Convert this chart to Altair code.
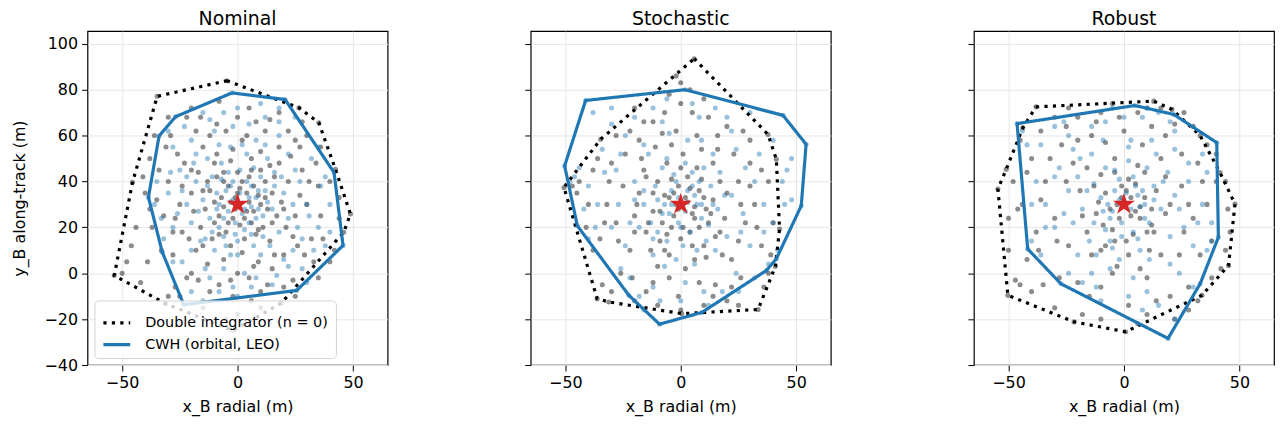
import altair as alt
import pandas as pd

DI = "Double integrator (n = 0)"
CWH = "CWH (orbital, LEO)"
titles = ["Nominal", "Stochastic", "Robust"]
star_x = [0.0]
star_y = [30.0]
y_ticks = [-40, -20, 0, 20, 40, 60, 80, 100]
x_ticks = [-50, 0, 50]

# convex hulls (vertices)
hull_di_nom = [(-4.6,83.9),(26.6,72.1),(35.2,65.6),(42.4,45.3),(48.9,25.8),(46.0,17.9),(19.0,-13.0),(-2.0,-25.0),(-31.2,-13.2),(-53.4,-1.0),(-45.5,39.6),(-34.8,77.1)]
hull_cwh_nom = [(-2.4,78.6),(20.6,75.7),(41.8,43.9),(45.7,12.1),(25.6,-7.5),(-23.3,-13.7),(-32.6,9.2),(-38.6,33.1),(-34.0,59.8),(-26.9,68.2)]
hull_di_sto = [(5.8,93.5),(37.8,60.5),(41.4,49.7),(42.8,19.3),(41.0,3.0),(33.5,-15.8),(0.4,-17.6),(-31.2,-12.5),(-36.2,-11.1),(-50.6,37.4),(-34.7,58.4)]
hull_cwh_sto = [(1.9,80.0),(44.3,68.8),(54.3,56.2),(52.2,29.4),(41.4,6.3),(37.1,1.2),(9.1,-17.1),(-9.2,-22.2),(-22.5,-9.6),(-44.8,20.7),(-50.3,46.8),(-41.2,75.3)]
hull_di_rob = [(-38.1,72.5),(12.9,75.0),(20.8,71.4),(33.0,60.0),(41.6,43.9),(48.1,30.2),(45.3,3.4),(33.8,-9.6),(0.7,-25.5),(-21.6,-21.2),(-50.3,-9.6),(-54.6,36.7),(-51.0,45.3),(-43.8,63.4)]
hull_cwh_rob = [(4.7,73.1),(21.6,69.2),(40.2,56.9),(40.9,15.7),(33.0,-4.6),(19.1,-28.4),(-27.3,-4.6),(-41.7,10.6),(-46.3,65.2)]

# sampled end positions (representative points read from the clouds)
pts_di_nom = [(-3,31),(4,27),(-8,25),(9,34),(-12,36),(2,40),(6,22),(-5,18),(13,28),(-14,28),(0,35),(7,38),(-9,42),(11,20),(-2,24),(15,35),(-16,20),(3,15),(-6,44),(10,45),(-11,15),(17,25),(-1,28),(5,31),(-7,33),(1,21),(12,40),(-13,40),(8,17),(-4,38),(14,14),(-10,22),(6,45),(-3,12),(16,42),
              (-20,45),(22,40),(-25,30),(25,25),(-18,10),(20,8),(0,0),(2,58),(-15,55),(18,55),(-28,18),(28,45),(-22,-2),(24,-3),(-8,-5),(10,-8),(-30,40),(30,30),(-12,60),(12,62),(-26,52),(27,55),(-32,25),(32,15),(-20,0),(15,2),(5,-2),(-5,62),(8,66),(-18,62),(22,62),(-33,10),(33,5),(-27,-6),(-2,-10),(20,-6),(26,12),(-24,38),(35,38),(-35,32),
              (-40,35),(-44,20),(-38,50),(-48,5),(-42,-4),(-30,-10),(-15,-15),(0,-18),(10,-15),(35,-2),(42,10),(44,24),(40,40),(36,55),(28,66),(18,70),(5,72),(-8,75),(-20,72),(-30,68),(-36,60),
              (-1,33),(3,24),(-6,29),(7,27),(-10,31),(1,37),(4,35),(-4,22),(9,19),(-8,17),(12,33),(-15,36),(0,44),(6,50),(-3,49),(10,53),(-9,52),(14,47),(-17,44),(19,31),(-19,27),(21,20),(-21,15),(2,9),(-6,6),(9,5),(16,8),(-13,4),(18,48),(-23,48),(23,51),(-2,54),(4,60),(-9,65),(14,67),(-16,68),(25,58),(-29,60),(30,60),(-31,55),(31,40),(-34,45),(36,25),(-37,20),(37,15),(-39,5),(40,5),(-25,-10),(25,-10),(-12,-8),(6,-12),(-5,-20),(13,-5),(-17,-3),(29,8),(-28,8),(27,34),(-27,24),(34,48),(-38,28),(-46,12),(-50,0),(-41,42),(44,33),(-22,68),(0,68),(20,28),(-20,35),(15,22),(-15,12),(7,3),(-3,-3),(-24,18),(24,16),(-10,48),(10,30),(-6,40),(5,42)]
pts_cwh_nom = [(0,30),(-4,27),(5,33),(-9,35),(8,24),(-2,40),(3,19),(-12,24),(12,36),(-6,16),(10,42),(-15,32),(15,28),(1,45),(-7,48),(7,12),(-3,8),(-18,40),(18,18),(-10,10),(13,50),(-13,50),(20,35),(-20,22),(4,52),(-1,22),(6,38),(-8,30),(9,28),(-5,36),(2,26),(11,16),(-11,42),(16,44),(-16,14),(0,14),(-3,55),(8,58),(22,24),(-22,30),
               (-25,45),(25,45),(-28,20),(28,15),(-20,58),(18,60),(-10,62),(5,65),(-24,5),(22,3),(-12,-2),(8,-2),(-2,-6),(15,-5),(30,30),(-30,35),(32,50),(-28,55),(35,20),(-20,-8),(12,68),(-6,70),(28,2),(-32,15),(36,38),
               (40,30),(38,12),(30,-4),(-15,-12),(0,-10),(-35,40),(-30,62),(-15,70),(10,74),(25,68),(35,55),
               (-2,32),(3,28),(-6,24),(6,29),(-9,28),(1,35),(4,40),(-4,44),(8,33),(-8,20),(11,25),(-13,38),(13,31),(-1,17),(6,17),(-5,12),(10,8),(-14,15),(16,38),(-17,27),(19,42),(-19,48),(2,56),(-8,56),(12,56),(-24,36),(24,30),(-26,26),(26,20),(-20,10),(20,6),(-6,2),(3,0),(17,-1),(-14,2),(-18,52),(22,52),(27,40),(-29,44),(31,25),(-33,24),(-23,64),(0,72),(18,66),(-12,67),(33,10),(-28,5),(6,-6),(-8,-8),(38,42),(-36,30),(40,18),(18,72),(-2,64),(7,46),(-11,18),(14,12),(0,8),(-22,42),(24,10),(9,36),(-3,38),(5,22),(-7,41)]
pts_di_sto = [(-2,30),(5,26),(-7,34),(8,36),(-12,27),(3,42),(-4,20),(12,22),(-10,40),(0,15),(14,32),(-15,18),(7,46),(-6,48),(10,12),(-13,10),(17,40),(-18,35),(2,33),(-3,25),(6,29),(-8,22),(11,28),(-1,38),(4,18),(-9,14),(15,16),(-16,45),(19,24),(-20,25),(1,52),(9,54),(-11,55),(-5,8),(6,6),
              (-25,38),(25,40),(-22,10),(22,6),(-28,22),(28,22),(-5,-2),(8,-4),(-18,58),(16,60),(-2,62),(30,48),(-30,48),(-26,0),(26,-2),(20,64),(-12,66),(5,70),(-32,30),(32,30),(-15,-8),(14,-10),(35,12),(-35,15),(-22,62),
              (0,83),(-5,78),(10,76),(-20,72),(-40,30),(-45,35),(-38,10),(-30,-8),(-10,-14),(20,-12),(38,0),(40,22),(38,40),(30,58),(-38,45),
              (-1,28),(3,31),(-5,33),(6,24),(-9,27),(1,20),(4,37),(-4,41),(9,41),(-12,35),(13,26),(-14,22),(0,46),(5,12),(-7,10),(11,7),(-10,3),(17,18),(-19,30),(20,35),(-17,50),(14,48),(-4,56),(7,60),(-8,61),(23,52),(-24,52),(26,30),(-27,14),(25,14),(2,2),(-12,-4),(15,-5),(-1,-10),(-21,-2),(22,-6),(30,38),(-31,40),(33,20),(-33,22),(-7,70),(12,68),(-16,66),(27,62),(-28,60),(35,45),(-36,50),(0,74),(-2,86),(4,80),(-41,20),(-44,40),(-47,38),(39,8),(36,-6),(-34,-5),(10,-14),(-20,-12),(0,-16),(25,-14),(-3,35),(8,20),(-6,17),(10,33),(-15,42),(18,8),(-20,18),(16,54)]
pts_cwh_sto = [(0,30),(-5,26),(6,34),(-10,32),(9,24),(-2,40),(4,18),(-13,22),(13,38),(-6,14),(10,46),(-16,36),(16,28),(2,48),(-8,46),(7,10),(-2,6),(-20,40),(20,16),(-12,8),(14,52),(-14,52),(22,34),(-22,22),(3,58),(-1,22),(5,38),(-7,30),(9,30),(-4,36),
               (-28,45),(28,46),(-30,20),(30,12),(-24,60),(22,62),(-8,66),(8,68),(-26,2),(24,0),(-12,-6),(10,-8),(-36,30),(36,30),(34,52),(-34,54),(40,22),(-18,-10),(0,-12),(-40,38),(44,40),(42,10),(-42,28),(-30,65),(15,72),
               (-46,42),(48,32),(48,50),(-38,70),(30,70),(-6,76),(-16,-16),(25,-8),(-40,15),
               (-1,33),(2,27),(-4,30),(7,30),(-8,26),(3,36),(-3,43),(8,40),(-11,38),(12,21),(-12,15),(1,12),(6,4),(-7,3),(15,10),(-18,20),(19,34),(-20,32),(17,44),(-16,56),(9,58),(-5,61),(24,54),(-26,52),(27,26),(-27,30),(26,18),(-24,12),(2,-4),(-9,-12),(18,-8),(32,40),(-33,44),(36,18),(-37,20),(-44,46),(-48,40),(45,30),(46,45),(40,58),(-20,68),(5,74),(-30,72),(20,68),(-12,72),(32,-2),(-22,-2),(12,-14),(38,4),(-10,18),(11,14),(5,44),(-6,50),(0,20),(14,30),(-16,30)]
pts_di_rob = [(-3,30),(5,27),(-8,35),(9,33),(-12,26),(2,41),(-5,19),(12,21),(-10,43),(1,14),(14,36),(-16,18),(6,47),(-4,50),(11,10),(-14,8),(18,42),(-19,36),(3,33),(-2,24),(7,29),(-9,21),(12,28),(-1,38),(4,17),
              (-25,40),(25,38),(-24,12),(24,8),(-30,24),(30,24),(-5,0),(10,-2),(-20,58),(18,60),(0,62),(32,48),(-32,50),(-28,-2),(28,-6),(22,65),(-12,66),(6,70),(-36,32),(36,30),(-15,-10),(14,-12),(38,14),(-38,18),(-25,64),(-40,50),(40,40),(-44,30),(-42,6),(-35,-5),
              (-46,28),(-48,40),(-45,-5),(-30,-15),(-10,-20),(10,-18),(28,-16),(38,-2),(44,10),(45,28),(40,52),(30,64),(10,72),(-10,70),(-30,68),(-45,58),
              (-1,33),(3,25),(-6,28),(7,24),(-11,31),(1,36),(5,39),(-4,44),(9,44),(-13,38),(13,18),(-8,12),(2,8),(-3,3),(7,2),(16,8),(-18,25),(20,30),(-22,48),(16,50),(-8,57),(8,56),(25,52),(-27,56),(28,30),(-29,14),(26,18),(-10,-6),(2,-14),(20,-10),(-20,-4),(34,40),(-34,40),(33,8),(-37,10),(-14,60),(12,64),(-2,68),(-20,68),(26,70),(-36,62),(-42,44),(-50,24),(-50,10),(-47,-3),(-40,-8),(-18,-18),(6,-22),(22,-20),(32,-12),(42,2),(46,18),(44,40),(36,56),(16,72),(-5,74),(-24,72),(-10,10),(10,18),(-16,46),(18,26),(-4,14)]
pts_cwh_rob = [(0,30),(-5,27),(6,34),(-10,33),(9,24),(-2,41),(4,18),(-13,22),(13,38),(-6,14),(10,46),(-16,36),(16,28),(2,49),(-8,46),(7,10),(-2,6),(-20,42),(20,16),(-12,8),(14,52),(-14,52),(22,34),(-22,22),(3,58),(-1,22),(5,38),(-7,30),(9,30),(-4,36),
               (-28,46),(28,48),(-30,20),(30,12),(-24,60),(22,62),(-8,66),(8,68),(-24,0),(24,0),(-12,-6),(10,-8),(-34,30),(34,30),(34,52),(-36,56),(38,22),(-18,-4),(2,-10),(15,-14),(-38,40),(36,10),(-40,14),(-30,64),(15,70),
               (-2,32),(3,28),(-6,24),(7,29),(-9,27),(1,35),(4,42),(-4,45),(8,36),(-8,19),(11,22),(-13,39),(13,32),(-1,16),(6,15),(-5,11),(11,6),(-15,14),(17,40),(-18,28),(19,44),(-19,50),(2,55),(-9,58),(12,58),(-24,36),(24,28),(-26,26),(26,20),(-20,8),(20,4),(-6,2),(4,-2),(-14,0),(-22,54),(22,54),(28,40),(-30,42),(32,22),(-34,20),(-26,66),(0,68),(20,66),(-14,64),(36,44),(-40,30),(38,14),(30,-6),(-10,-12),(8,-16),(22,-20),(-36,8),(-42,56),(-44,62),(10,72),(-5,72)]

hulls = [(hull_di_nom, hull_cwh_nom), (hull_di_sto, hull_cwh_sto), (hull_di_rob, hull_cwh_rob)]
clouds = [(pts_di_nom, pts_cwh_nom), (pts_di_sto, pts_cwh_sto), (pts_di_rob, pts_cwh_rob)]

STAR = "M0,-1L0.223,-0.307L0.951,-0.309L0.361,0.117L0.588,0.809L0,0.38L-0.588,0.809L-0.361,0.117L-0.951,-0.309L-0.223,-0.307Z"
BLUE = "#1f77b4"
W, H = 302, 336


def panel(k):
    (h_di, h_cwh), (p_di, p_cwh) = hulls[k], clouds[k]
    rows = []
    for name, h in ((DI, h_di), (CWH, h_cwh)):
        for i, (x, y) in enumerate(list(h) + [h[0]]):
            rows.append({"x": x, "y": y, "series": name, "i": i})
    hull_df = pd.DataFrame(rows)
    di_df = pd.DataFrame(list(p_di) + list(h_di), columns=["x", "y"])
    cwh_df = pd.DataFrame(list(p_cwh) + list(h_cwh), columns=["x", "y"])
    star_df = pd.DataFrame({"x": star_x, "y": star_y})

    first = k == 0
    xenc = alt.X("x:Q", scale=alt.Scale(domain=[-65, 65], nice=False, zero=False),
                 axis=alt.Axis(values=x_ticks, title="x_B radial (m)"))
    yenc = alt.Y("y:Q", scale=alt.Scale(domain=[-40, 105.5], nice=False, zero=False),
                 axis=alt.Axis(values=y_ticks, labels=first,
                               title="y_B along-track (m)" if first else None))

    s_di = alt.Chart(di_df).mark_circle(size=26, opacity=0.45, color="black").encode(x=xenc, y=yenc)
    s_cwh = alt.Chart(cwh_df).mark_circle(size=26, opacity=0.45, color=BLUE).encode(x="x:Q", y="y:Q")

    col_kw = dict(scale=alt.Scale(domain=[DI, CWH], range=["black", BLUE]), sort=[DI, CWH])
    dash_kw = dict(scale=alt.Scale(domain=[DI, CWH], range=[[3.2, 5.3], [1, 0]]), sort=[DI, CWH])
    if first:
        leg = alt.Legend(title=None, orient="bottom-left", offset=7, symbolType="stroke",
                         symbolSize=729, symbolStrokeWidth=3.2, labelFontSize=14.5,
                         labelOffset=13, padding=7, rowPadding=-3, labelLimit=0,
                         fillColor="rgba(255,255,255,0.8)", strokeColor="#d4d4d4",
                         cornerRadius=4, labelColor="black")
        col = alt.Color("series:N", legend=leg, **col_kw)
        dash = alt.StrokeDash("series:N", legend=leg, **dash_kw)
    else:
        col = alt.Color("series:N", legend=None, **col_kw)
        dash = alt.StrokeDash("series:N", legend=None, **dash_kw)
    lines = alt.Chart(hull_df).mark_line(strokeWidth=3.2, strokeCap="butt", strokeJoin="round").encode(
        x="x:Q", y="y:Q", color=col, strokeDash=dash, order="i:Q")
    star = alt.Chart(star_df).mark_point(shape=STAR, filled=True, color="#d62728", opacity=1,
                                         size=540, strokeWidth=0).encode(x="x:Q", y="y:Q")
    return alt.layer(s_di, s_cwh, lines, star).properties(
        width=W, height=H, title=titles[k])


chart = alt.hconcat(panel(0), panel(1), panel(2), spacing=135).resolve_scale(
    color="independent", strokeDash="independent"
).properties(padding={"left": 2, "top": 0, "right": 0, "bottom": 0}).configure(
    font="DejaVu Sans"
).configure_view(
    stroke="black", strokeWidth=1.2
).configure_axis(
    domain=False, grid=True, gridColor="#e6e6e6", gridWidth=1, tickColor="black", tickSize=6,
    tickWidth=1, labelFontSize=16, titleFontSize=16, labelColor="black", titleColor="black",
    titleFontWeight="normal", labelPadding=4, titlePadding=8
).configure_axisY(titlePadding=17).configure_title(
    fontSize=19, fontWeight="normal", color="black", offset=2
)

chart.save("out.html", embed_options={"renderer": "svg", "actions": False})
